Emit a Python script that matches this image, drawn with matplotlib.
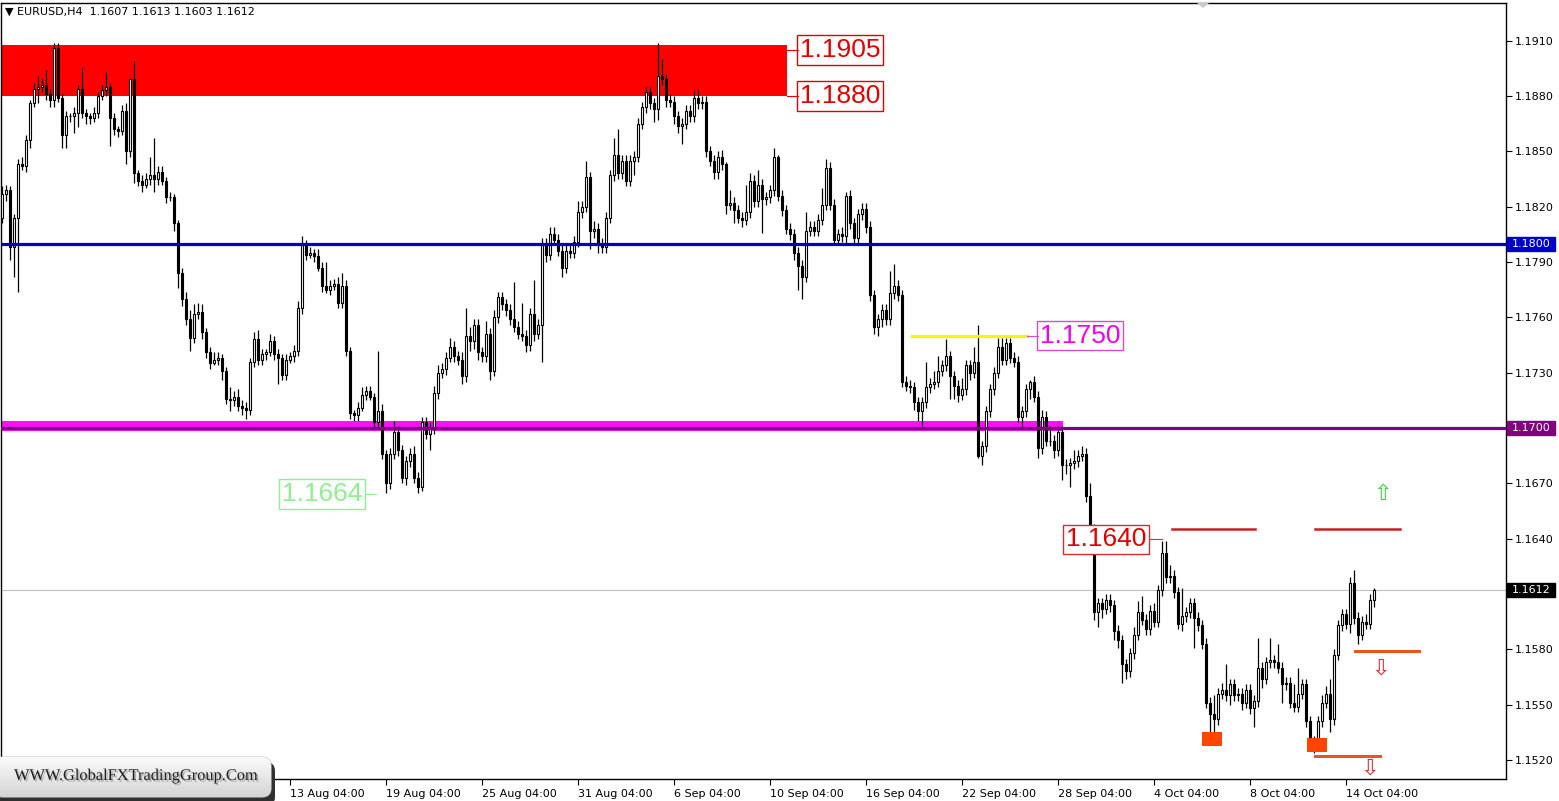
import matplotlib
matplotlib.use('Agg')
import matplotlib.pyplot as plt
import numpy as np
from matplotlib.patches import Rectangle, FancyBboxPatch, Polygon
import matplotlib.transforms as mtransforms
import matplotlib.patheffects as pe

# ---------------- data (EURUSD H4, prices in pips above 1.1500) ----------------
BASE = 1.1500
PIP = 0.0001
FIRST_OPEN = 314
CLOSE = [
    327, 329, 298, 314, 343, 342, 356, 376, 384, 385,
    386, 381, 378, 406, 379, 359, 369, 369, 371, 384,
    371, 369, 368, 371, 380, 383, 385, 368, 362, 361,
    372, 350, 389, 338, 334, 332, 335, 337, 335, 339,
    334, 325, 325, 311, 284, 270, 259, 249, 262, 263,
    252, 241, 235, 237, 238, 231, 216, 215, 217, 212,
    211, 210, 236, 248, 237, 240, 241, 247, 240, 238,
    229, 237, 239, 242, 265, 299, 294, 295, 293, 287,
    277, 275, 277, 278, 268, 277, 242, 208, 207, 211,
    218, 220, 217, 203, 209, 186, 170, 186, 198, 188,
    173, 182, 186, 173, 168, 203, 197, 200, 219, 230,
    232, 238, 244, 239, 237, 228, 250, 247, 256, 241,
    239, 251, 231, 260, 271, 267, 264, 259, 255, 251,
    250, 245, 262, 251, 256, 300, 294, 305, 302, 296,
    287, 296, 295, 301, 317, 320, 336, 307, 308, 300,
    298, 314, 337, 348, 338, 345, 334, 345, 347, 365,
    374, 382, 376, 373, 391, 389, 378, 377, 369, 364,
    365, 372, 369, 379, 376, 377, 350, 345, 339, 347,
    343, 321, 322, 318, 314, 313, 317, 334, 323, 332,
    324, 325, 329, 347, 326, 318, 308, 305, 295, 288,
    282, 307, 309, 307, 313, 321, 341, 321, 302, 305,
    304, 326, 311, 303, 316, 319, 309, 272, 255, 259,
    264, 259, 273, 277, 272, 225, 223, 222, 214, 209,
    214, 222, 224, 225, 231, 234, 239, 228, 223, 218,
    221, 234, 230, 236, 185, 190, 209, 221, 230, 244,
    237, 246, 238, 236, 206, 209, 221, 225, 217, 189,
    206, 193, 193, 188, 198, 180, 180, 181, 182, 185,
    186, 163, 145, 100, 105, 102, 107, 104, 90, 85,
    72, 68, 78, 88, 100, 96, 91, 101, 95, 112,
    132, 119, 120, 111, 94, 98, 100, 105, 97, 93,
    83, 51, 45, 42, 56, 58, 55, 61, 55, 56,
    51, 58, 48, 52, 70, 64, 73, 74, 73, 70,
    61, 62, 51, 49, 56, 61, 41, 30, 29, 41,
    51, 56, 42, 77, 93, 99, 94, 116, 97, 88,
    95, 94, 107, 112]
UPPER_WICK = [
    4, 3, 2, 2, 3, 4, 3, 2, 3, 6,
    3, 8, 3, 3, 3, 2, 3, 2, 3, 2,
    12, 2, 2, 3, 2, 3, 8, 2, 3, 2,
    3, 4, 1, 10, 2, 3, 3, 10, 20, 3,
    3, 2, 3, 2, 2, 3, 4, 5, 5, 5,
    4, 2, 3, 4, 3, 2, 2, 6, 3, 4,
    3, 3, 2, 4, 5, 3, 2, 4, 3, 3,
    2, 3, 2, 3, 4, 5, 3, 3, 2, 4,
    3, 13, 3, 3, 4, 7, 3, 2, 2, 3,
    4, 3, 3, 2, 33, 4, 2, 3, 6, 3,
    3, 3, 3, 4, 3, 3, 3, 3, 4, 4,
    3, 3, 5, 3, 3, 4, 15, 5, 3, 3,
    3, 7, 3, 4, 3, 3, 3, 3, 20, 3,
    17, 3, 3, 18, 3, 3, 3, 4, 4, 3,
    3, 3, 3, 3, 6, 3, 9, 3, 4, 3,
    3, 3, 3, 9, 14, 3, 3, 3, 3, 3,
    3, 3, 3, 3, 18, 9, 3, 3, 3, 3,
    3, 3, 3, 4, 5, 3, 3, 3, 3, 3,
    4, 1, 7, 3, 3, 3, 15, 4, 3, 8,
    3, 3, 3, 5, 1, 3, 3, 3, 3, 3,
    3, 10, 3, 3, 3, 9, 5, 3, 3, 3,
    4, 2, 3, 3, 3, 3, 3, 3, 3, 3,
    3, 3, 12, 12, 3, 3, 3, 3, 3, 3,
    3, 14, 3, 6, 8, 3, 9, 3, 3, 3,
    6, 3, 3, 8, 20, 3, 3, 3, 3, 5,
    5, 3, 3, 3, 3, 3, 3, 1, 3, 3,
    4, 3, 8, 3, 3, 3, 3, 3, 6, 3,
    4, 3, 7, 3, 3, 3, 3, 3, 3, 3,
    3, 3, 3, 4, 6, 9, 3, 3, 4, 3,
    7, 7, 6, 3, 3, 15, 3, 3, 3, 3,
    3, 3, 3, 10, 3, 4, 14, 3, 3, 3,
    3, 3, 3, 3, 16, 3, 3, 12, 3, 10,
    3, 3, 3, 10, 14, 3, 3, 3, 3, 3,
    4, 4, 8, 3, 3, 3, 3, 3, 7, 3,
    3, 4, 3, 1]
LOWER_WICK = [
    3, 4, 7, 16, 40, 2, 3, 4, 2, 8,
    3, 3, 4, 4, 2, 7, 7, 3, 9, 8,
    3, 4, 3, 2, 3, 2, 3, 15, 3, 3,
    2, 7, 3, 5, 3, 4, 2, 3, 7, 3,
    2, 3, 2, 4, 8, 4, 3, 7, 3, 3,
    4, 3, 3, 1, 3, 5, 3, 6, 3, 3,
    4, 5, 3, 3, 3, 3, 3, 2, 3, 14,
    3, 3, 2, 3, 3, 3, 3, 2, 3, 2,
    3, 2, 3, 2, 3, 3, 3, 3, 3, 3,
    2, 3, 2, 3, 3, 3, 5, 3, 3, 3,
    3, 4, 3, 3, 3, 2, 3, 9, 3, 3,
    3, 3, 2, 3, 3, 4, 3, 5, 4, 4,
    3, 3, 5, 3, 3, 3, 3, 3, 3, 3,
    3, 4, 3, 4, 3, 20, 4, 3, 3, 3,
    5, 3, 3, 3, 3, 3, 3, 10, 4, 5,
    3, 3, 3, 3, 3, 3, 3, 3, 8, 3,
    3, 3, 3, 7, 6, 3, 4, 3, 4, 4,
    10, 3, 3, 3, 3, 3, 3, 3, 4, 4,
    3, 5, 3, 7, 3, 4, 3, 3, 3, 3,
    18, 3, 3, 3, 3, 3, 3, 3, 4, 13,
    12, 3, 3, 3, 3, 3, 3, 3, 3, 3,
    3, 5, 3, 3, 3, 3, 3, 3, 4, 5,
    4, 3, 3, 3, 3, 3, 3, 3, 4, 5,
    8, 3, 3, 3, 3, 3, 3, 12, 7, 4,
    3, 3, 4, 3, 1, 5, 3, 3, 3, 3,
    3, 3, 3, 3, 3, 6, 3, 5, 3, 5,
    3, 3, 3, 4, 3, 8, 5, 12, 3, 3,
    3, 3, 5, 4, 8, 5, 3, 4, 5, 4,
    10, 4, 3, 3, 3, 3, 3, 3, 3, 3,
    3, 3, 3, 3, 3, 4, 3, 3, 16, 3,
    3, 3, 16, 10, 3, 3, 3, 5, 3, 3,
    4, 3, 3, 10, 3, 5, 3, 3, 3, 3,
    10, 3, 3, 3, 3, 3, 3, 4, 5, 3,
    3, 3, 7, 3, 3, 3, 3, 5, 3, 5,
    3, 3, 3, 4]

DATE_BARS = [72, 96, 120, 144, 168, 192, 216, 240, 264, 288, 312, 336]
DATE_LABELS = ['13 Aug 04:00', '19 Aug 04:00', '25 Aug 04:00', '31 Aug 04:00',
               '6 Sep 04:00', '10 Sep 04:00', '16 Sep 04:00', '22 Sep 04:00',
               '28 Sep 04:00', '4 Oct 04:00', '8 Oct 04:00', '14 Oct 04:00']
PRICE_TICKS = [1.1520, 1.1550, 1.1580, 1.1610, 1.1640, 1.1670, 1.1700,
               1.1730, 1.1760, 1.1790, 1.1820, 1.1850, 1.1880, 1.1910]
HIDDEN_TICK_LABELS = [1.1610, 1.1700]   # covered by price tags in the reference

ZONE_TOP, ZONE_BOTTOM = 1.19077, 1.1880
BLUE_LEVEL = 1.1800
PURPLE_LEVEL = 1.1700
BAND_LOW, BAND_HIGH = 1.16985, 1.17037
YELLOW_LEVEL = 1.1750
LAST_PRICE = 1.1612
RED_LEVEL = 1.1645
ORANGE_LEVEL_1 = 1.1579
ORANGE_LEVEL_2 = 1.1522
LOW_BOX_1 = (1.15274, 1.15350)
LOW_BOX_2 = (1.15241, 1.15322)

# ---------------- figure ----------------
W, H = 1559, 801
fig = plt.figure(figsize=(W / 100, H / 100), dpi=100)
fig.patch.set_facecolor('white')


def fx(px):
    return px / W


def fy(py):
    return 1 - py / H


ax = fig.add_axes([fx(1), fy(779), fx(1506) - fx(1), fy(3) - fy(779)])
ax.set_facecolor('white')
ax.set_xlim(-0.25, 376)
ax.set_ylim(1.150971, 1.193044)

n = len(CLOSE)
idx = np.arange(n)
c = BASE + np.array(CLOSE) * PIP
o = np.concatenate([[BASE + FIRST_OPEN * PIP], c[:-1]])
hi = np.maximum(o, c) + np.array(UPPER_WICK) * PIP
lo = np.minimum(o, c) - np.array(LOWER_WICK) * PIP

# background objects
ax.add_patch(Rectangle((-0.25, ZONE_BOTTOM), 196.5, ZONE_TOP - ZONE_BOTTOM,
                       fc='#ff0000', ec='none', zorder=1))
ax.add_patch(Rectangle((-0.25, BAND_LOW), 265.5, BAND_HIGH - BAND_LOW,
                       fc='#ff10ff', ec='none', zorder=1))

# candles
ax.vlines(idx, lo, hi, color='black', lw=0.9, zorder=3)
bull = c >= o
ax.bar(idx[bull], (c - o)[bull], bottom=o[bull], width=0.62, color='white',
       edgecolor='black', lw=0.8, zorder=4)
ax.bar(idx[~bull], (c - o)[~bull], bottom=o[~bull], width=0.62, color='black',
       edgecolor='black', lw=0.8, zorder=4)

# lines
ax.axhline(BLUE_LEVEL, color='#0000c0', lw=2.3, zorder=5)
ax.axhline(PURPLE_LEVEL, color='#80007f', lw=2.3, zorder=5)
ax.axhline(LAST_PRICE, color='#c0c0c0', lw=0.8, zorder=2)
ax.plot([227.5, 256.25], [YELLOW_LEVEL, YELLOW_LEVEL], color='#f5f500', lw=2.3, zorder=5)
ax.plot([292.5, 313.25], [RED_LEVEL, RED_LEVEL], color='#cc2020', lw=1.8, zorder=5)
ax.plot([328.25, 349.5], [RED_LEVEL, RED_LEVEL], color='#cc2020', lw=1.8, zorder=5)
ax.plot([338.25, 354.25], [ORANGE_LEVEL_1, ORANGE_LEVEL_1], color='#e8561c', lw=2.2, zorder=5)
ax.plot([328.25, 344.5], [ORANGE_LEVEL_2, ORANGE_LEVEL_2], color='#e8561c', lw=2.2, zorder=5)
ax.add_patch(Rectangle((300, LOW_BOX_1[0]), 5, LOW_BOX_1[1] - LOW_BOX_1[0],
                       fc='#ff4500', ec='none', zorder=6))
ax.add_patch(Rectangle((326.25, LOW_BOX_2[0]), 5, LOW_BOX_2[1] - LOW_BOX_2[0],
                       fc='#ff4500', ec='none', zorder=6))

# boxed labels
def boxed(x, y, txt, col, ecol=None, x0=None, x1=None):
    ax.text(x, y, txt, ha='center', va='center', fontsize=19, color=col,
            family='Liberation Sans', zorder=7,
            bbox=dict(boxstyle='square,pad=0.1', fc='white', ec=ecol or col, lw=1))
    if x0 is not None:
        ax.plot([x0, x1], [y, y], color=ecol or col, lw=0.8, zorder=7)


boxed(209.5, 1.1905, '1.1905', '#e00000', '#e00000', 196.25, 199.0)
boxed(209.5, 1.1880, '1.1880', '#e00000', '#e00000', 196.25, 199.0)
boxed(269.5, 1.1750, '1.1750', '#ee00ee', '#d050d0', 256.25, 259.0)
boxed(80.0, 1.16642, '1.1664', '#90ee90', '#90ee90', 90.75, 93.5)
boxed(276.0, 1.16396, '1.1640', '#e00000', '#d03030', 287.0, 290.0)

# arrows
ax.text(345.25, 1.16643, '\u21e7', ha='center', va='center', fontsize=16,
        color='#40d040', family='DejaVu Sans', zorder=7)
ax.text(344.75, 1.15697, '\u21e9', ha='center', va='center', fontsize=16,
        color='#d83030', family='DejaVu Sans', zorder=7)
ax.text(342.0, 1.15155, '\u21e9', ha='center', va='center', fontsize=16,
        color='#d83030', family='DejaVu Sans', zorder=7)

# axes styling
ax.yaxis.tick_right()
ax.set_yticks(PRICE_TICKS)
ax.set_yticklabels(['' if any(abs(p - h) < 1e-6 for h in HIDDEN_TICK_LABELS) else '%.4f' % p
                    for p in PRICE_TICKS])
ax.set_xticks(DATE_BARS)
ax.set_xticklabels(DATE_LABELS)
for lab in ax.get_xticklabels():
    lab.set_ha('left')
ax.tick_params(axis='both', direction='out', length=4, width=0.8, labelsize=8,
               colors='black', pad=2)
ax.tick_params(axis='x', pad=3)
for sp in ax.spines.values():
    sp.set_color('black')
    sp.set_linewidth(1)

# right-side price tags
blend = mtransforms.blended_transform_factory(ax.transAxes, ax.transData)
tag_w = 48 / 1505
tag_h = 14 / 18444
for p, fc in [(BLUE_LEVEL, '#0000cc'), (PURPLE_LEVEL, '#800080'), (LAST_PRICE, '#000000')]:
    ax.add_patch(Rectangle((1.0007, p - tag_h / 2), tag_w, tag_h, transform=blend,
                           fc=fc, ec=fc, clip_on=False, zorder=8))
    ax.text(1.0007 + tag_w / 2, p, '%.4f' % p, transform=blend, ha='center',
            va='center', fontsize=8, color='white', clip_on=False, zorder=9)

# overlay for header, logo and shift marker
ov = fig.add_axes([0, 0, 1, 1])
ov.set_xlim(0, W)
ov.set_ylim(H, 0)
ov.axis('off')
ov.patch.set_visible(False)

ov.text(5, 12, '\u25bc EURUSD,H4  1.1607 1.1613 1.1603 1.1612', fontsize=8,
        va='center', ha='left', color='black')
ov.add_patch(Polygon([[1197, 3], [1209, 3], [1203, 8]], closed=True,
                     fc='#c8c8c8', ec='none'))

shadow = FancyBboxPatch((-6, 762), 281, 44, boxstyle='round,pad=0,rounding_size=9',
                        fc='#303030', ec='none', zorder=10)
ov.add_patch(shadow)
logo = FancyBboxPatch((-6, 757), 277, 40, boxstyle='round,pad=0,rounding_size=9',
                      fc='#eeeeee', ec='#c8c8c8', lw=0.8, zorder=11)
ov.add_patch(logo)
grad = np.linspace(0, 1, 64).reshape(-1, 1)
im = ov.imshow(grad, extent=[-6, 271, 797, 757], cmap=matplotlib.colors.LinearSegmentedColormap.from_list(
    'g', ['#fbfbfb', '#d4d4d4']), aspect='auto', zorder=12)
im.set_clip_path(logo)
ov.set_xlim(0, W)
ov.set_ylim(H, 0)
ov.text(14, 776, 'WWW.GlobalFXTradingGroup.Com', family='Liberation Serif', fontsize=11.8,
        color='#1e1e1e', va='center', ha='left', zorder=13,
        path_effects=[pe.withSimplePatchShadow(offset=(1.2, -1.2), shadow_rgbFace='#888888', alpha=0.6)])

fig.savefig('out.png', dpi=100)
